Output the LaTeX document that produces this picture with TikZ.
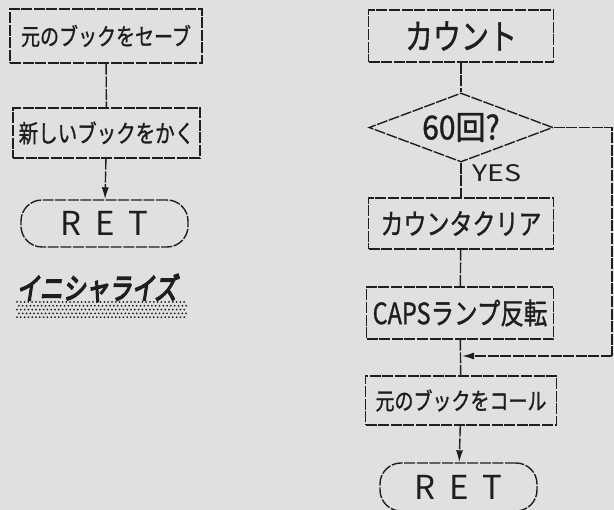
\documentclass[tikz,border=0pt]{standalone}
\usepackage{fontspec}
\setmainfont[FakeBold=1.2]{Noto Sans CJK JP}
\newfontfamily\titlefont[FakeBold=5,FakeSlant=0.2]{Noto Sans CJK JP}
\newfontfamily\retfont{Noto Sans CJK JP}
\usetikzlibrary{shapes.geometric,arrows.meta}
\definecolor{paper}{RGB}{224,224,224}
\definecolor{ink}{RGB}{30,30,30}
\tikzset{
  flow/.style={draw=ink, line width=1.4pt, dash pattern=on 11pt off 1.6pt},
  procbox/.style={flow, rectangle, inner sep=0pt, text=ink},
  termbox/.style={flow, rectangle, rounded corners=21pt, inner sep=0pt, text=ink},
  decbox/.style={flow, diamond, shape aspect=2.67, inner sep=0pt, text=ink},
  link/.style={draw=ink, line width=1.4pt, dash pattern=on 11pt off 1.6pt},
  arr/.style={link, -{Latex[length=12pt,width=7pt]}},
  fs/.style={font=\fontsize{#1}{#1}\selectfont}
}
\newcommand{\hs}[1]{\scalebox{1}[1.25]{#1}}
\newcommand{\retlabel}{\retfont R\hspace{14pt}E\hspace{14pt}T}
\begin{document}
\begin{tikzpicture}[x=1pt,y=-1pt]
\fill[paper] (0,0) rectangle (614,510);
\useasboundingbox (0,0) rectangle (614,510);

% left column
\node[procbox, minimum width=192pt, minimum height=54pt, fs=19] (b1) at (106,36) {\hs{元のブックをセーブ}};
\node[procbox, minimum width=187pt, minimum height=50pt, fs=19.5] (b2) at (106.5,133) {\hs{新しいブックをかく}};
\node[termbox, minimum width=167pt, minimum height=47pt, fs=33] (r1) at (104.5,223.5) {\retlabel};
\draw[link] (b1) -- (b2);
\draw[arr] (b2) -- (r1);

\node[text=ink, inner sep=0pt] (title) at (97,288) {\scalebox{0.92}[1.2]{\titlefont\fontsize{25}{25}\selectfont イニシャライズ}};
\foreach \r in {0,...,4} {
  \foreach \c in {0,...,44} {
    \fill[ink] ({17+\c*3.8+mod(\r,2)*1.9},{302+\r*3.8}) circle (1pt);
  }
}

% right column
\node[procbox, minimum width=185pt, minimum height=52pt, fs=28] (c1) at (461,36) {\hs{カウント}};
\node[decbox, minimum width=184pt, minimum height=69pt, fs=30] (d) at (461,127.5) {\scalebox{1}[1.1]{60回?}};
\node[text=ink, inner sep=0pt] (yes) at (497,173.5) {\resizebox{49pt}{17pt}{\retfont YES}};
\node[procbox, minimum width=185pt, minimum height=51pt, fs=23] (c2) at (461,223.5) {\hs{カウンタクリア}};
\node[procbox, minimum width=187pt, minimum height=52pt, fs=23.5] (c3) at (460,313) {\hs{CAPSランプ反転}};
\node[procbox, minimum width=191pt, minimum height=49pt, fs=19] (c4) at (461,400.5) {\hs{元のブックをコール}};
\node[termbox, minimum width=157pt, minimum height=48pt, fs=33] (r2) at (458.5,487) {\retlabel};

\draw[link] (c1) -- (d);
\draw[link] (d) -- (c2);
\draw[link] (c2) -- (c3);
\draw[link] (c3) -- (c4);
\draw[arr] (c4) -- (r2);

\coordinate (loopc) at (612,356);
\coordinate (join) at (462,356);
\draw[link] (d.east) -| (loopc);
\draw[arr] (loopc) -- (join);
\end{tikzpicture}
\end{document}
